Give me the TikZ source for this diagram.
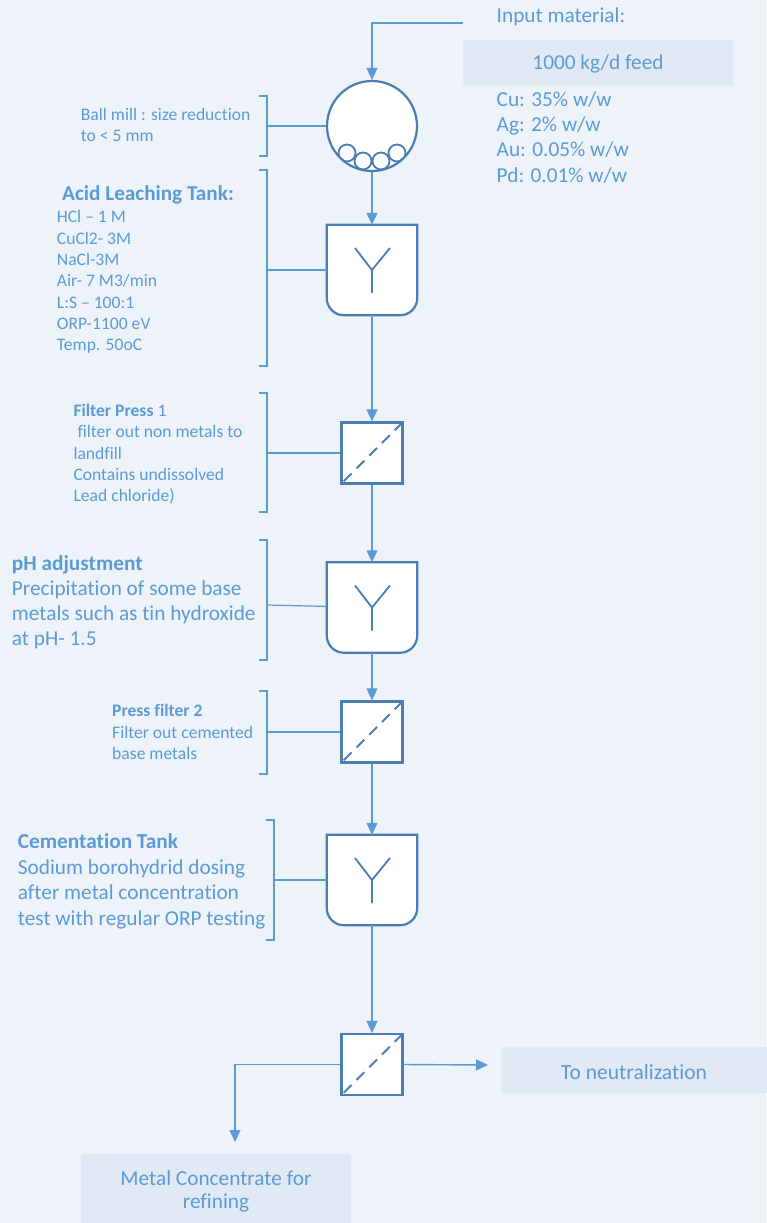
\documentclass[tikz,border=0pt]{standalone}
\usepackage{fontspec}
\setmainfont{Carlito}[Ligatures={TeX,NoCommon}]
\usetikzlibrary{arrows.meta}
\definecolor{flowblue}{HTML}{5B9BD5}
\definecolor{unitblue}{HTML}{4A7DB3}
\definecolor{boxfill}{HTML}{E1E9F4}
\definecolor{bgfill}{HTML}{EEF3FA}
\tikzset{x=1pt, y=-1pt,
flow/.style={
draw=flowblue,
line width=1.4pt,
-{Triangle[length=12pt,width=11pt]}},
link/.style={
draw=flowblue,
line width=1.2pt},
unit/.style={
draw=unitblue,
line width=2.2pt,
fill=white},
filter/.style={unit, rectangle,
minimum width=61pt, minimum height=61pt, inner sep=0pt,
path picture={\draw[unitblue, line width=1.8pt, dash pattern=on 11pt off 7pt]
(path picture bounding box.north east) -- (path picture bounding box.south west);}},
mill/.style={unit, circle,
minimum size=90pt, inner sep=0pt,
path picture={\foreach \bx/\by in {-25/27,-9/35,9/35,25/27}
\draw[unitblue, line width=1.8pt, fill=white] ([shift={(\bx,\by)}]path picture bounding box.center) circle[radius=8.5pt];}},
tank/.style={
minimum width=90pt, minimum height=90pt, inner sep=0pt},
note/.style={
text=flowblue, inner sep=0pt, anchor=base west, align=left},
big/.style={font=\fontsize{21.3}{25.3}\selectfont},
mid/.style={font=\fontsize{17.6}{21.3}\selectfont},
labelbox/.style={
fill=boxfill, text=flowblue, inner sep=0pt, align=center,
font=\fontsize{21.3}{23.3}\selectfont}}
\newcommand\tankbody[1]{%
\draw[unit] (#1.west) [rounded corners=17pt] -- (#1.south west) -- (#1.south east) -- (#1.east)
[sharp corners] -- (#1.north east) -- (#1.north west) -- cycle;
\draw[unitblue, line width=1.8pt] ([shift={(-17,-22)}]#1.center) -- (#1.center) -- ([shift={(18,-22)}]#1.center)
(#1.center) -- ([shift={(0,23)}]#1.center);}
\newcommand\bracket[3]{%
\draw[link] (#1-8,#2) -- (#1,#2) -- (#1,#3) -- (#1-8,#3);}

\begin{document}
\begin{tikzpicture}
\fill[bgfill] (0,0) rectangle (766,1223);
\useasboundingbox (0,0) rectangle (766,1223);
\node[mill] (mill) at (372,126) {};
\node[tank] (t1) at (372,270) {};
\node[filter] (f1) at (372,453) {};
\node[tank] (t2) at (372,607.5) {};
\node[filter] (f2) at (372,732) {};
\node[tank] (t3) at (372,880) {};
\node[filter] (f3) at (372,1064.5) {};
\tankbody{t1}
\tankbody{t2}
\tankbody{t3}
\node[note, big] (inlbl) at (496.5,22.7) {Input material:};
\node[labelbox, minimum width=270pt, minimum height=45pt, text depth=0pt] (feed) at (598,62.5) {1000 kg/d feed};
\node[note, big] (comp) at (496.5,182) {Cu: 35\% w/w\\Ag: 2\% w/w\\Au: 0.05\% w/w\\Pd: 0.01\% w/w};
\node[note, font=\fontsize{17.6}{21}\selectfont] (milllbl) at (80.7,141.7) {Ball mill : size reduction\\to < 5 mm};
\node[note, font=\bfseries\fontsize{21.2}{23}\selectfont] (t1head) at (62,200) {Acid Leaching Tank:};
\node[note, mid] (t1lbl) at (56.7,350.7) {HCl -- 1 M\\CuCl2- 3M\\NaCl-3M\\Air- 7 M3/min\\L:S -- 100:1\\ORP-1100 eV\\Temp. 50oC};
\node[note, mid] (f1lbl) at (73.3,501.7) {\textbf{Filter Press} 1\\\hspace{4pt}filter out non metals to\\landfill\\Contains undissolved\\Lead chloride)};
\node[note, big, font=\fontsize{21.3}{25}\selectfont] (t2lbl) at (11.7,645) {\textbf{pH adjustment}\\Precipitation of some base\\metals such as tin hydroxide\\at pH- 1.5};
\node[note, mid] (f2lbl) at (112,759.3) {\textbf{Press filter 2}\\Filter out cemented\\base metals};
\node[note, big, font=\fontsize{21.3}{25.5}\selectfont] (t3lbl) at (17.7,925) {\textbf{Cementation Tank}\\Sodium borohydrid dosing\\after metal concentration\\test with regular ORP testing};
\node[labelbox, font=\fontsize{21.6}{24}\selectfont, minimum width=266pt, minimum height=46pt, text height=18pt, text depth=0pt] (neut) at (634,1070) {To neutralization};
\node[labelbox, minimum width=270pt, minimum height=75pt] (conc) at (216,1191.5) {Metal Concentrate for\\refining};
\bracket{267}{96}{156}
\bracket{267}{170}{366}
\bracket{267}{393}{512}
\bracket{267}{540}{660}
\bracket{267}{691}{774}
\bracket{274}{820}{940}
\coordinate (b1) at (267,126);
\coordinate (b2) at (267,270);
\coordinate (b3) at (267,453);
\coordinate (b4) at (267,605);
\coordinate (b5) at (267,732);
\coordinate (b6) at (274,880);
\coordinate (feedin) at (463,23);
\coordinate (neutin) at (488,1065);
\coordinate (concin) at (235,1142);
\draw[link] (b1) -- (mill);
\draw[link] (b2) -- (t1);
\draw[link] (b3) -- (f1);
\draw[link] (b4) -- (t2);
\draw[link] (b5) -- (f2);
\draw[link] (b6) -- (t3);
\draw[flow] (feedin) -| (mill);
\draw[flow] (mill) -- (t1);
\draw[flow] (t1) -- (f1);
\draw[flow] (f1) -- (t2);
\draw[flow] (t2) -- (f2);
\draw[flow] (f2) -- (t3);
\draw[flow] (t3) -- (f3);
\draw[flow] (f3.east) -- (neutin);
\draw[flow] (f3.west) -| (concin);
\end{tikzpicture}
\end{document}
